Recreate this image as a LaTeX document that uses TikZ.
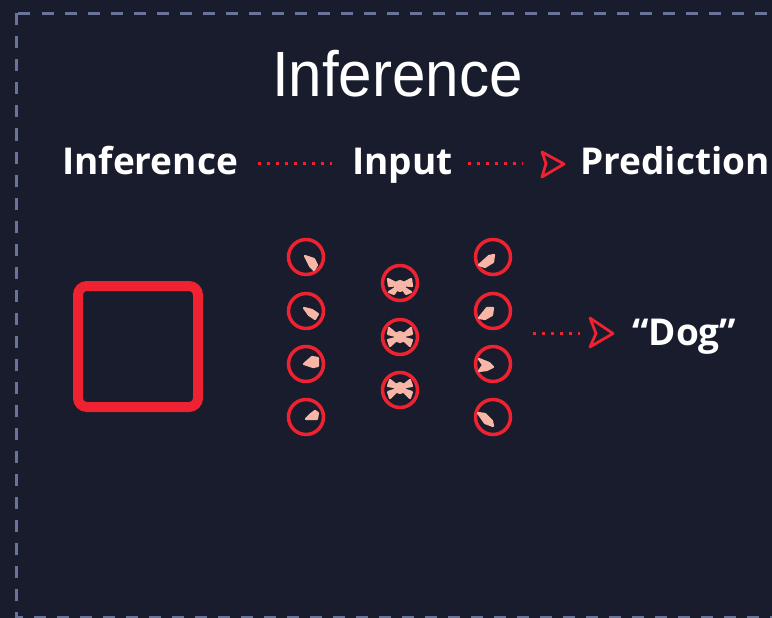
\documentclass[tikz,border=0pt]{standalone}
\usepackage{fontspec}
\setmainfont{Open Sans}
\newfontfamily\titlefont{Liberation Sans}
\usetikzlibrary{calc}
\definecolor{bgc}{HTML}{181C2C}
\definecolor{redc}{HTML}{EE2230}
\definecolor{salm}{HTML}{F7B6A6}
\definecolor{bord}{HTML}{6A7498}
\begin{document}
\begin{tikzpicture}[x=1pt,y=-1pt,
 lbl/.style={text=white,font=\fontsize{37}{40}\selectfont\bfseries,inner sep=0pt,anchor=base west,text height=28pt,text depth=5pt},
 neuron/.style={circle,draw=redc,line width=3.5pt,minimum size=35pt,inner sep=0pt},
 dotline/.style={draw=redc,line width=3pt,dash pattern=on 3pt off 6pt},
 chev/.style={draw=redc,line width=2.8pt,line join=round},
 blob/.style={fill=salm,draw=salm,line width=2.2pt,line join=round},
 border/.style={draw=bord,line width=3pt,dash pattern=on 12pt off 11pt},
 imgbox/.style={draw=redc,line width=10pt,rounded corners=9pt,minimum width=120pt,minimum height=121pt,inner sep=0pt}]
\fill[bgc] (0,0) rectangle (772,618);
\useasboundingbox (0,0) rectangle (772,618);
\draw[border] (16.5,13.5) rectangle (800,617);

% title
\node[text=white,font=\titlefont\fontsize{64}{70}\selectfont,xscale=0.94,anchor=base,inner sep=0pt] (title) at (397.5,97) {Inference};

% header row
\node[lbl] (inf) at (62,175) {Inference};
\node[lbl] (inp) at (352,175) {Input};
\node[lbl] (pred) at (580,175) {Prediction};
\draw[dotline,shorten <=20pt,shorten >=20pt] (inf.east) -- (inp.west);
\draw[dotline,shorten <=15pt,shorten >=58pt] (inp.east) -- (pred.west);
\draw[chev] ($(pred.west)+(-38,-11.5)$) -- ($(pred.west)+(-16,0.5)$) -- ($(pred.west)+(-38,13.5)$) -- ($(pred.west)+(-34,0)$) -- cycle;

% image box
\node[imgbox] (img) at (138,346.5) {};

% network
\node[neuron] (l1) at (306,257) {};
\node[neuron] (l2) at (306,311) {};
\node[neuron] (l3) at (306,364) {};
\node[neuron] (l4) at (306,417) {};
\node[neuron] (m1) at (400,283) {};
\node[neuron] (m2) at (400,337) {};
\node[neuron] (m3) at (400,390) {};
\node[neuron] (r1) at (493,257) {};
\node[neuron] (r2) at (493,311) {};
\node[neuron] (r3) at (493,364) {};
\node[neuron] (r4) at (493,417) {};

% blobs inside neurons
\begin{scope}[shift={(l1.center)}]
\fill[blob] (-1,-1) -- (8,2) -- (11,8) -- (8,13) -- (4,9) -- cycle;
\end{scope}
\begin{scope}[shift={(l2.center)}]
\fill[blob] (-2,-3) -- (6,-1) -- (12,3) -- (9,8) -- (3,4) -- cycle;
\end{scope}
\begin{scope}[shift={(l3.center)}]
\fill[blob] (-2,0) -- (6,-7) -- (12,-6) -- (12,2) -- (7,3) -- cycle;
\end{scope}
\begin{scope}[shift={(l4.center)}]
\fill[blob] (0,2) -- (5,-3) -- (9,-6) -- (12,-4) -- (11,2) -- cycle;
\end{scope}
\begin{scope}[shift={(m1.center)}]
\fill[blob] (0,2) -- (-12,-4) -- (-11,3) -- cycle;
\fill[blob] (0,2) -- (-11,9) -- (-6,11) -- cycle;
\fill[blob] (0,2) -- (11,-4) -- (12,3) -- cycle;
\fill[blob] (0,2) -- (11,9) -- (6,11) -- cycle;
\fill[blob] (0,3) circle (5);
\end{scope}
\begin{scope}[shift={(m2.center)}]
\fill[blob] (0,0) -- (-11,-9) -- (-12,-3) -- cycle;
\fill[blob] (0,0) -- (-12,3) -- (-10,9) -- cycle;
\fill[blob] (0,0) -- (11,-9) -- (12,-3) -- cycle;
\fill[blob] (0,0) -- (12,3) -- (10,9) -- cycle;
\fill[blob] (0,0) circle (5);
\end{scope}
\begin{scope}[shift={(m3.center)}]
\fill[blob] (0,-2) -- (-10,-10) -- (-12,-4) -- cycle;
\fill[blob] (0,-2) -- (-12,2) -- (-10,8) -- cycle;
\fill[blob] (0,-2) -- (10,-10) -- (12,-4) -- cycle;
\fill[blob] (0,-2) -- (12,2) -- (10,8) -- cycle;
\fill[blob] (0,-2) circle (5);
\end{scope}
\begin{scope}[shift={(r1.center)}]
\fill[blob] (-14,8) -- (-4,-1) -- (1,-2) -- (0,5) -- (-8,10) -- cycle;
\end{scope}
\begin{scope}[shift={(r2.center)}]
\fill[blob] (-14,7) -- (-6,-3) -- (0,-3) -- (-1,4) -- (-8,8) -- cycle;
\end{scope}
\begin{scope}[shift={(r3.center)}]
\fill[blob] (-14,-5) -- (-4,-1) -- (0,3) -- (-6,6) -- (-14,7) -- (-10,1) -- cycle;
\end{scope}
\begin{scope}[shift={(r4.center)}]
\fill[blob] (-15,-4) -- (-8,-3) -- (-1,4) -- (0,9) -- (-8,6) -- cycle;
\end{scope}

% output
\coordinate (out) at (513,333.5);
\node[lbl] (dog) at (632,345) {“Dog”};
\draw[dotline,shorten <=20pt,shorten >=52pt] (out) -- (dog.west);
\draw[chev] ($(dog.west)+(-42,-15.5)$) -- ($(dog.west)+(-19,0)$) -- ($(dog.west)+(-42,13.5)$) -- ($(dog.west)+(-36,0)$) -- cycle;
\end{tikzpicture}
\end{document}
